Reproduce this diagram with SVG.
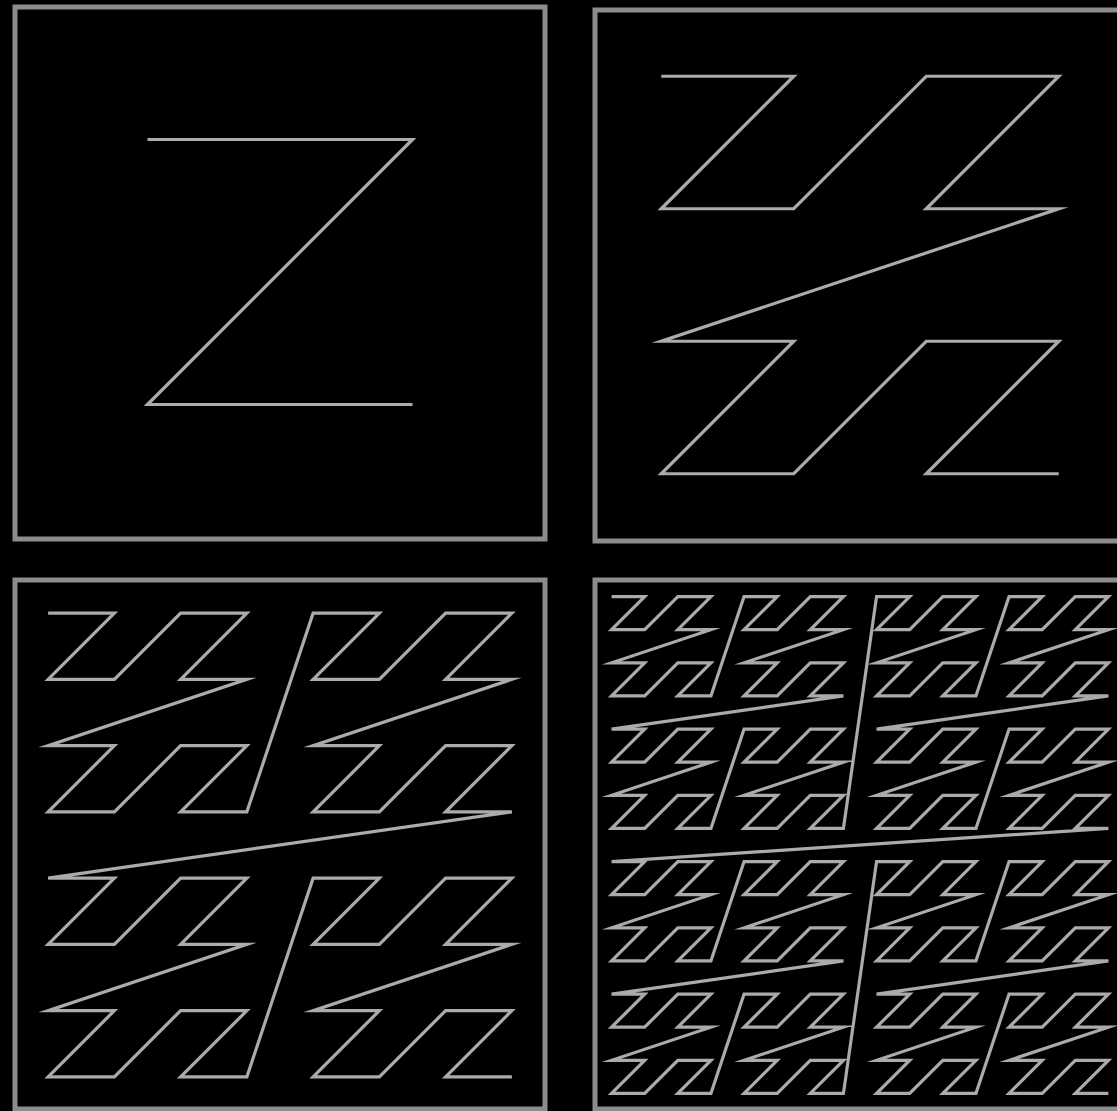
<svg xmlns="http://www.w3.org/2000/svg" width="1117" height="1111" viewBox="0 0 1117 1111">
<style>
.frame{fill:none;stroke:#8c8c8c;stroke-width:5}
.curve{fill:none;stroke:#ababab;stroke-width:3.2;stroke-linejoin:miter;stroke-miterlimit:10}
</style>
<rect width="1117" height="1111" fill="#000"/>
<g id="panel1">
<rect class="frame" x="15" y="7" width="530" height="532"/>
<path class="curve" d="M147.5,139.5 h265 l-265,265 h265"/>
</g>
<g id="panel2">
<rect class="frame" x="595" y="10" width="530" height="531"/>
<path class="curve" d="M661.25,76.25 h132.5 l-132.5,132.5 h132.5 l132.5,-132.5 h132.5 l-132.5,132.5 h132.5 l-397.5,132.5 h132.5 l-132.5,132.5 h132.5 l132.5,-132.5 h132.5 l-132.5,132.5 h132.5"/>
</g>
<g id="panel3">
<rect class="frame" x="15" y="580" width="530" height="529"/>
<path class="curve" d="M48.125,613.125
h66.25 l-66.25,66.25 h66.25 l66.25,-66.25 h66.25 l-66.25,66.25 h66.25 l-198.75,66.25 h66.25 l-66.25,66.25 h66.25 l66.25,-66.25 h66.25 l-66.25,66.25 h66.25
l66.25,-198.75
h66.25 l-66.25,66.25 h66.25 l66.25,-66.25 h66.25 l-66.25,66.25 h66.25 l-198.75,66.25 h66.25 l-66.25,66.25 h66.25 l66.25,-66.25 h66.25 l-66.25,66.25 h66.25
l-463.75,66.25
h66.25 l-66.25,66.25 h66.25 l66.25,-66.25 h66.25 l-66.25,66.25 h66.25 l-198.75,66.25 h66.25 l-66.25,66.25 h66.25 l66.25,-66.25 h66.25 l-66.25,66.25 h66.25
l66.25,-198.75
h66.25 l-66.25,66.25 h66.25 l66.25,-66.25 h66.25 l-66.25,66.25 h66.25 l-198.75,66.25 h66.25 l-66.25,66.25 h66.25 l66.25,-66.25 h66.25 l-66.25,66.25 h66.25"/>
</g>
<g id="panel4">
<rect class="frame" x="595" y="580" width="530" height="529"/>
<path class="curve" d="M611.5625,596.5625
h33.125 l-33.125,33.125 h33.125 l33.125,-33.125 h33.125 l-33.125,33.125 h33.125 l-99.375,33.125 h33.125 l-33.125,33.125 h33.125 l33.125,-33.125 h33.125 l-33.125,33.125 h33.125
l33.125,-99.375
h33.125 l-33.125,33.125 h33.125 l33.125,-33.125 h33.125 l-33.125,33.125 h33.125 l-99.375,33.125 h33.125 l-33.125,33.125 h33.125 l33.125,-33.125 h33.125 l-33.125,33.125 h33.125
l-231.875,33.125
h33.125 l-33.125,33.125 h33.125 l33.125,-33.125 h33.125 l-33.125,33.125 h33.125 l-99.375,33.125 h33.125 l-33.125,33.125 h33.125 l33.125,-33.125 h33.125 l-33.125,33.125 h33.125
l33.125,-99.375
h33.125 l-33.125,33.125 h33.125 l33.125,-33.125 h33.125 l-33.125,33.125 h33.125 l-99.375,33.125 h33.125 l-33.125,33.125 h33.125 l33.125,-33.125 h33.125 l-33.125,33.125 h33.125
l33.125,-231.875
h33.125 l-33.125,33.125 h33.125 l33.125,-33.125 h33.125 l-33.125,33.125 h33.125 l-99.375,33.125 h33.125 l-33.125,33.125 h33.125 l33.125,-33.125 h33.125 l-33.125,33.125 h33.125
l33.125,-99.375
h33.125 l-33.125,33.125 h33.125 l33.125,-33.125 h33.125 l-33.125,33.125 h33.125 l-99.375,33.125 h33.125 l-33.125,33.125 h33.125 l33.125,-33.125 h33.125 l-33.125,33.125 h33.125
l-231.875,33.125
h33.125 l-33.125,33.125 h33.125 l33.125,-33.125 h33.125 l-33.125,33.125 h33.125 l-99.375,33.125 h33.125 l-33.125,33.125 h33.125 l33.125,-33.125 h33.125 l-33.125,33.125 h33.125
l33.125,-99.375
h33.125 l-33.125,33.125 h33.125 l33.125,-33.125 h33.125 l-33.125,33.125 h33.125 l-99.375,33.125 h33.125 l-33.125,33.125 h33.125 l33.125,-33.125 h33.125 l-33.125,33.125 h33.125
l-496.875,33.125
h33.125 l-33.125,33.125 h33.125 l33.125,-33.125 h33.125 l-33.125,33.125 h33.125 l-99.375,33.125 h33.125 l-33.125,33.125 h33.125 l33.125,-33.125 h33.125 l-33.125,33.125 h33.125
l33.125,-99.375
h33.125 l-33.125,33.125 h33.125 l33.125,-33.125 h33.125 l-33.125,33.125 h33.125 l-99.375,33.125 h33.125 l-33.125,33.125 h33.125 l33.125,-33.125 h33.125 l-33.125,33.125 h33.125
l-231.875,33.125
h33.125 l-33.125,33.125 h33.125 l33.125,-33.125 h33.125 l-33.125,33.125 h33.125 l-99.375,33.125 h33.125 l-33.125,33.125 h33.125 l33.125,-33.125 h33.125 l-33.125,33.125 h33.125
l33.125,-99.375
h33.125 l-33.125,33.125 h33.125 l33.125,-33.125 h33.125 l-33.125,33.125 h33.125 l-99.375,33.125 h33.125 l-33.125,33.125 h33.125 l33.125,-33.125 h33.125 l-33.125,33.125 h33.125
l33.125,-231.875
h33.125 l-33.125,33.125 h33.125 l33.125,-33.125 h33.125 l-33.125,33.125 h33.125 l-99.375,33.125 h33.125 l-33.125,33.125 h33.125 l33.125,-33.125 h33.125 l-33.125,33.125 h33.125
l33.125,-99.375
h33.125 l-33.125,33.125 h33.125 l33.125,-33.125 h33.125 l-33.125,33.125 h33.125 l-99.375,33.125 h33.125 l-33.125,33.125 h33.125 l33.125,-33.125 h33.125 l-33.125,33.125 h33.125
l-231.875,33.125
h33.125 l-33.125,33.125 h33.125 l33.125,-33.125 h33.125 l-33.125,33.125 h33.125 l-99.375,33.125 h33.125 l-33.125,33.125 h33.125 l33.125,-33.125 h33.125 l-33.125,33.125 h33.125
l33.125,-99.375
h33.125 l-33.125,33.125 h33.125 l33.125,-33.125 h33.125 l-33.125,33.125 h33.125 l-99.375,33.125 h33.125 l-33.125,33.125 h33.125 l33.125,-33.125 h33.125 l-33.125,33.125 h33.125"/>
</g>
</svg>
